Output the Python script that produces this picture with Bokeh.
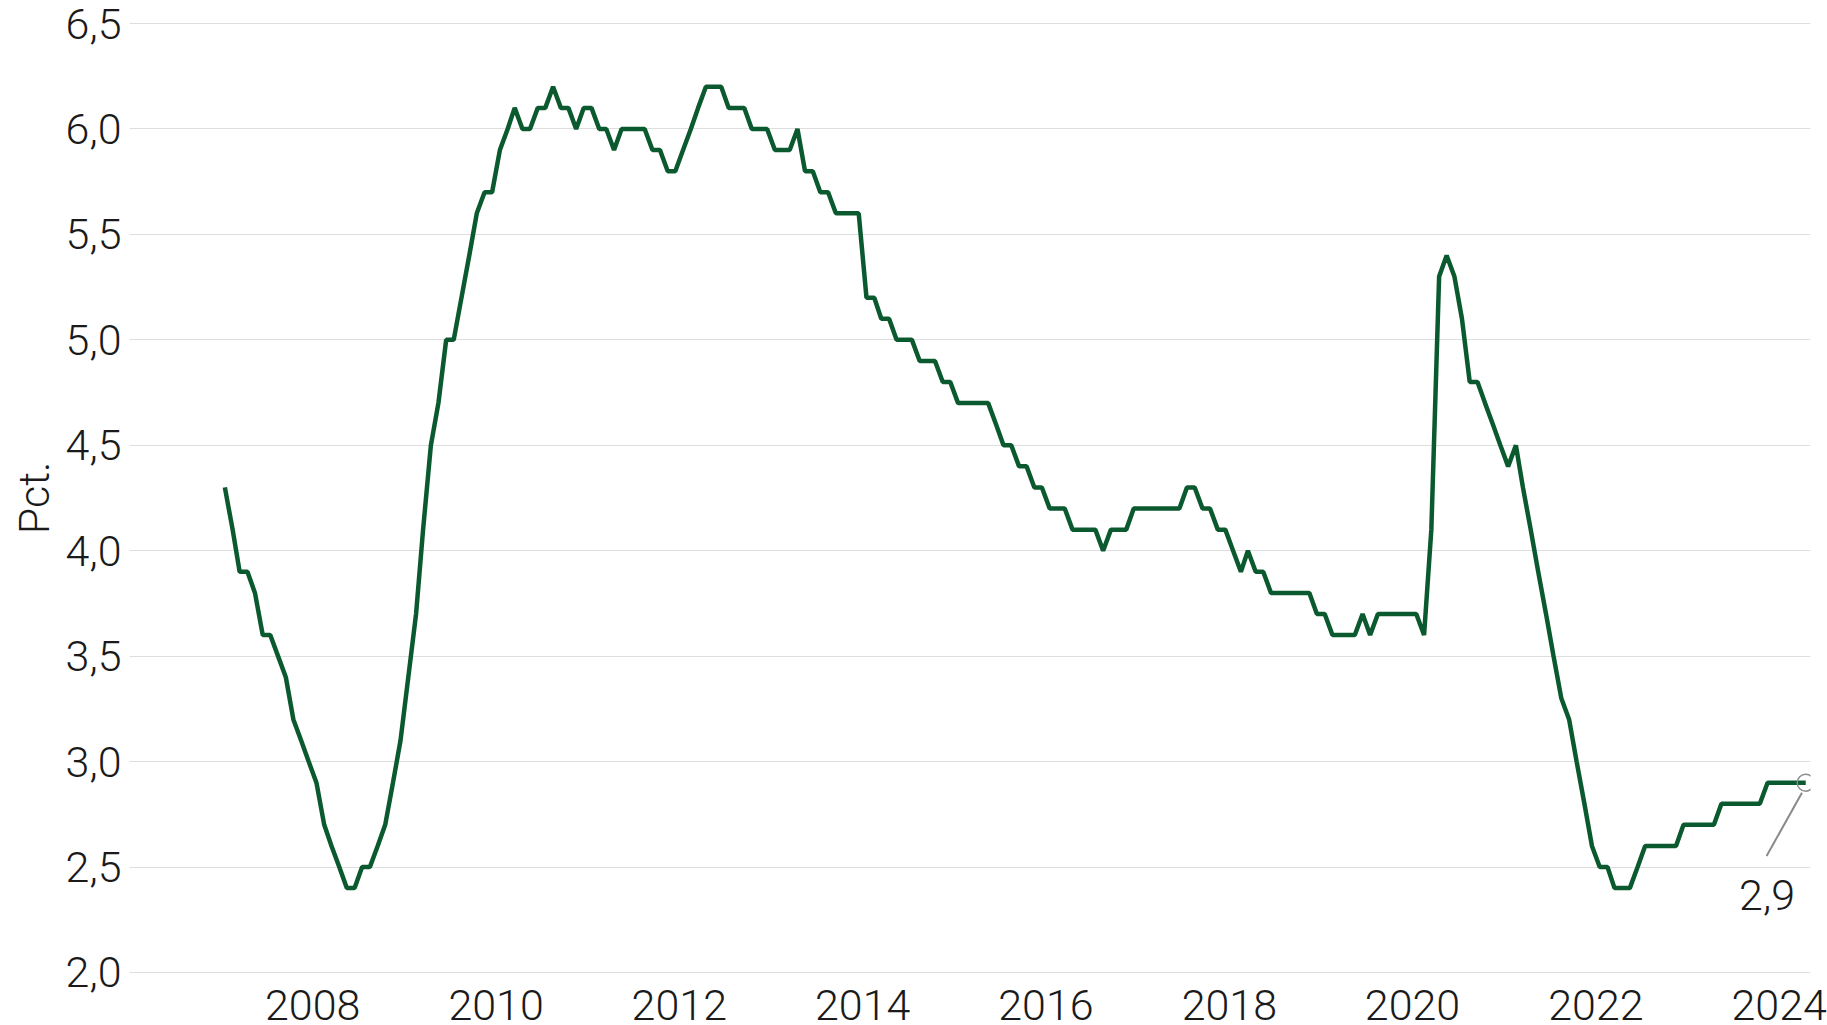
import pandas as pd
from bokeh.plotting import figure
from bokeh.models import Range1d, FixedTicker, CustomJSTickFormatter, Label, ColumnDataSource
from bokeh.embed import file_html
from bokeh.resources import INLINE

# Monthly values (pct.), Jan 2007 - Apr 2024
v2007 = [4.3, 4.1, 3.9, 3.9, 3.8, 3.6, 3.6, 3.5, 3.4, 3.2, 3.1, 3.0]
v2008 = [2.9, 2.7, 2.6, 2.5, 2.4, 2.4, 2.5, 2.5, 2.6, 2.7, 2.9, 3.1]
v2009 = [3.4, 3.7, 4.1, 4.5, 4.7, 5.0, 5.0, 5.2, 5.4, 5.6, 5.7, 5.7]
v2010 = [5.9, 6.0, 6.1, 6.0, 6.0, 6.1, 6.1, 6.2, 6.1, 6.1, 6.0, 6.1]
v2011 = [6.1, 6.0, 6.0, 5.9, 6.0, 6.0, 6.0, 6.0, 5.9, 5.9, 5.8, 5.8]
v2012 = [5.9, 6.0, 6.1, 6.2, 6.2, 6.2, 6.1, 6.1, 6.1, 6.0, 6.0, 6.0]
v2013 = [5.9, 5.9, 5.9, 6.0, 5.8, 5.8, 5.7, 5.7, 5.6, 5.6, 5.6, 5.6]
v2014 = [5.2, 5.2, 5.1, 5.1, 5.0, 5.0, 5.0, 4.9, 4.9, 4.9, 4.8, 4.8]
v2015 = [4.7, 4.7, 4.7, 4.7, 4.7, 4.6, 4.5, 4.5, 4.4, 4.4, 4.3, 4.3]
v2016 = [4.2, 4.2, 4.2, 4.1, 4.1, 4.1, 4.1, 4.0, 4.1, 4.1, 4.1, 4.2]
v2017 = [4.2, 4.2, 4.2, 4.2, 4.2, 4.2, 4.3, 4.3, 4.2, 4.2, 4.1, 4.1]
v2018 = [4.0, 3.9, 4.0, 3.9, 3.9, 3.8, 3.8, 3.8, 3.8, 3.8, 3.8, 3.7]
v2019 = [3.7, 3.6, 3.6, 3.6, 3.6, 3.7, 3.6, 3.7, 3.7, 3.7, 3.7, 3.7]
v2020 = [3.7, 3.6, 4.1, 5.3, 5.4, 5.3, 5.1, 4.8, 4.8, 4.7, 4.6, 4.5]
v2021 = [4.4, 4.5, 4.3, 4.1, 3.9, 3.7, 3.5, 3.3, 3.2, 3.0, 2.8, 2.6]
v2022 = [2.5, 2.5, 2.4, 2.4, 2.4, 2.5, 2.6, 2.6, 2.6, 2.6, 2.6, 2.7]
v2023 = [2.7, 2.7, 2.7, 2.7, 2.8, 2.8, 2.8, 2.8, 2.8, 2.8, 2.9, 2.9]
v2024 = [2.9, 2.9, 2.9, 2.9]

values = (v2007 + v2008 + v2009 + v2010 + v2011 + v2012 + v2013 + v2014 + v2015
          + v2016 + v2017 + v2018 + v2019 + v2020 + v2021 + v2022 + v2023 + v2024)
start_month = "2007-01-01"
dates = pd.date_range(start_month, periods=len(values), freq="MS") + pd.Timedelta(days=15)

y_ticks = [2.0, 2.5, 3.0, 3.5, 4.0, 4.5, 5.0, 5.5, 6.0, 6.5]
x_tick_years = [2008, 2010, 2012, 2014, 2016, 2018, 2020, 2022, 2024]
y_title = "Pct."
last_label = "2,9"

FONT = "Roboto Light, Roboto"
FSIZE = "43px"
TEXT = "#1a1a1a"
GREEN = "#0b5a2f"
GREY = "#8a8a8a"


def ms(d):
    return pd.Timestamp(d).value / 1e6


p = figure(width=1827, height=1025, x_axis_type="datetime",
           output_backend="svg", toolbar_location=None,
           x_range=Range1d(ms("2006-01-01"), ms("2024-05-05")),
           y_range=Range1d(1.995, 6.505),
           min_border_top=22, min_border_left=129, min_border_right=17, min_border_bottom=52)
p.outline_line_color = None
p.background_fill_color = "white"
p.border_fill_color = "white"

p.xgrid.visible = False
p.ygrid.ticker = FixedTicker(ticks=y_ticks)
p.ygrid.grid_line_color = "#dedede"
p.ygrid.grid_line_width = 1

for ax in (p.xaxis[0], p.yaxis[0]):
    ax.axis_line_color = None
    ax.major_tick_line_color = None
    ax.minor_tick_line_color = None
    ax.major_tick_out = 0
    ax.major_tick_in = 0
    ax.major_label_text_font = FONT
    ax.major_label_text_font_size = FSIZE
    ax.major_label_text_color = TEXT

p.yaxis[0].ticker = FixedTicker(ticks=y_ticks)
p.yaxis[0].formatter = CustomJSTickFormatter(code="return tick.toFixed(1).replace('.', ',');")
p.yaxis[0].major_label_standoff = 8
p.yaxis[0].axis_label = y_title
p.yaxis[0].axis_label_text_font = FONT
p.yaxis[0].axis_label_text_font_size = FSIZE
p.yaxis[0].axis_label_text_font_style = "normal"
p.yaxis[0].axis_label_text_color = TEXT
p.yaxis[0].axis_label_standoff = 4

p.xaxis[0].ticker = FixedTicker(ticks=[ms(f"{y}-01-01") for y in x_tick_years])
p.xaxis[0].formatter = CustomJSTickFormatter(code="return String(new Date(tick).getUTCFullYear());")
p.xaxis[0].major_label_standoff = 16

src = ColumnDataSource(dict(x=dates, y=values))
p.line("x", "y", source=src, line_color=GREEN, line_width=4.5)

# end-point annotation
last_x = dates[-1]
last_y = values[-1]
p.scatter(x=[last_x], y=[last_y], size=17, fill_alpha=0, line_color=GREY, line_width=1.5)
p.segment(x0=[last_x - pd.Timedelta(days=15)], y0=[last_y - 0.048],
          x1=[pd.Timestamp("2023-11-12")], y1=[last_y - 0.348],
          line_color=GREY, line_width=2)
p.add_layout(Label(x=ms("2023-11-14"), y=last_y - 0.463, text=last_label,
                   text_font=FONT, text_font_size=FSIZE, text_color=TEXT,
                   text_align="center", text_baseline="top"))

open("out.html", "w").write(file_html(p, INLINE))
